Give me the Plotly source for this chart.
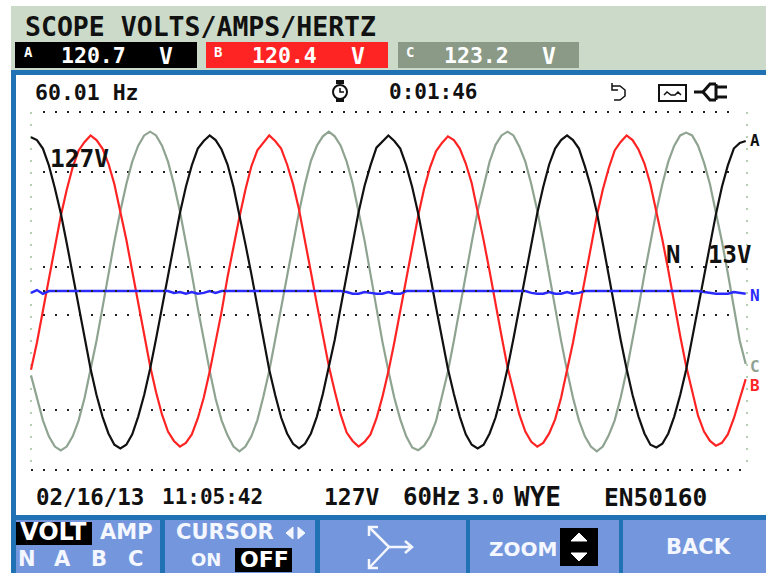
import plotly.graph_objects as go

W, H = 766, 573

# ---- data: volts, one sample per ~0.556 ms ----
BLACK_A = [164,161,152,134,110,83,51,17,-17,-51,-83,-111,-134,-152,-164,-168,-164,-153,-134,-111,-83,-51,-17,17,51,83,111,134,152,160,
           166,161,151,135,111,82,50,18,-16,-50,-84,-111,-135,-152,-163,-168,-163,-152,-134,-110,-82,-52,-17,16,50,84,112,134,153,160,
           166,160,152,134,111,83,52,17,-17,-51,-83,-110,-134,-153,-164,-168,-164,-152,-135,-111,-83,-51,-18,17,51,83,111,135,152,161,
           166,161,152,133,111,84,51,16,-17,-52,-83,-111,-134,-152,-164,-167,-163,-152,-134,-111,-84,-51,-17,18,51,82,111,134,152,158,
           160]
RED_B = [-84,-55,-21,14,48,80,108,132,150,159,166,161,152,136,114,86,55,21,-14,-48,-80,-108,-132,-150,-160,-166,-162,-153,-136,-114,
         -86,-54,-22,15,48,79,108,133,150,158,166,160,152,135,114,87,55,20,-14,-49,-80,-107,-132,-151,-160,-166,-161,-153,-136,-113,
         -86,-55,-21,14,47,80,109,132,149,158,165,161,152,136,115,86,54,21,-15,-48,-81,-108,-132,-150,-161,-166,-162,-152,-137,-114,
         -85,-55,-21,13,48,80,108,131,150,159,166,161,151,136,114,86,55,22,-14,-48,-80,-108,-133,-150,-160,-165,-162,-153,-136,-115,
         -94]
GREY_C = [-90,-114,-138,-155,-166,-170,-166,-155,-138,-114,-85,-53,-18,18,53,85,114,138,155,166,170,166,155,138,114,85,53,18,-18,-53,
          -85,-115,-138,-154,-166,-171,-166,-155,-138,-113,-85,-52,-18,19,53,84,114,139,155,165,170,165,155,138,115,85,54,18,-18,-54,
          -85,-114,-137,-155,-167,-170,-165,-155,-139,-114,-86,-53,-17,18,52,85,113,138,156,166,170,166,154,138,114,86,53,17,-18,-53,
          -85,-114,-138,-155,-166,-171,-166,-154,-138,-114,-85,-53,-18,18,53,85,114,138,155,166,169,166,155,137,114,85,53,19,-18,-53,
          -78]
BLUE_N = [-2,1,-3,0,0,0,0,0,0,0,0,0,0,0,0,0,0,0,0,0,0,0,0,0,-2,-1,-3,-1,-3,-2,0,-2,0,0,0,0,0,0,0,0,0,0,0,0,0,0,0,0,0,0,0,0,0,
          -1,-3,-3,-1,-2,-3,-3,-1,-3,-3,0,0,0,0,0,0,0,0,0,0,0,0,0,0,0,0,0,0,0,0,0,
          -2,-3,-3,-1,-3,-3,-1,-3,-2,0,0,0,0,0,0,0,0,0,0,0,0,0,0,0,0,0,0,0,0,
          -1,-2,-3,-3,-3,-1,-2,-3,-1]
SAMPLE_MS = [i * 16.67 / 30 for i in range(len(BLACK_A))]
INNER_GRID_V = [-127, -25.6, 0, 25.6, 127, 191]
OUTER_GRID_V = [-191]
GRID_T_MS = [0, 66.8]

READINGS = [("A", "120.7"), ("B", "120.4"), ("C", "123.2")]

MONO = "DejaVu Sans Mono"
SANS = "DejaVu Sans"
PANEL = "#ccdbc9"; FRAME = "#2172b5"; BTN = "#7396dc"; GREY = "#8fa391"; RED = "#ff2424"; BLUE = "#2a2aff"; BTXT = "#f4f7ff"


def X(x): return x / W
def Y(y): return 1 - y / H


def rect(x0, y0, x1, y1, color):
    return dict(type="rect", xref="paper", yref="paper", x0=X(x0), x1=X(x1), y0=Y(y1), y1=Y(y0),
                fillcolor=color, line=dict(width=0), layer="below")


def poly(pts, color, width=2, fill=None, close=False):
    d = "M " + " L ".join(f"{X(a):.5f} {Y(b):.5f}" for a, b in pts) + (" Z" if close else "")
    return dict(type="path", xref="paper", yref="paper", path=d, fillcolor=fill or "rgba(0,0,0,0)",
                line=dict(color=color, width=width), layer="above")


def oval(x0, y0, x1, y1, color, width=2):
    return dict(type="circle", xref="paper", yref="paper", x0=X(x0), x1=X(x1), y0=Y(y1), y1=Y(y0),
                line=dict(color=color, width=width), layer="above")


def label(text, x, y, size, color="#111111", anchor="left", family=MONO):
    return dict(text=text, x=X(x), y=Y(y), xref="paper", yref="paper", xanchor=anchor, yanchor="middle",
                showarrow=False, borderpad=0, font=dict(family=family, size=size, color=color, weight=700))


def hdots(v, t0, t1, layer="below"):
    return dict(type="line", xref="x", yref="y", x0=t0, x1=t1, y0=v, y1=v, layer=layer,
                line=dict(color="#222222", width=2, dash="2px,10px"))


fig = go.Figure()
for name, vals, col, lw in [("C", GREY_C, GREY, 2.2), ("B", RED_B, RED, 2.2), ("A", BLACK_A, "#111111", 2.2), ("N", BLUE_N, BLUE, 2.5)]:
    fig.add_trace(go.Scatter(x=SAMPLE_MS, y=vals, mode="lines", name=name, line=dict(color=col, width=lw), showlegend=False))

shapes = [
    rect(11, 6, W, 70, PANEL),
    rect(11, 70, W, H, FRAME),
    rect(16, 75, W, 515, "#ffffff"),
    rect(15, 42, 197, 68, "#000000"),
    rect(206, 42, 388, 68, RED),
    rect(398, 42, 579, 68, "#8a9a86"),
    rect(16, 520, 160, H, BTN),
    rect(165, 520, 315, H, BTN),
    rect(320, 520, 466, H, BTN),
    rect(470, 520, 619, H, BTN),
    rect(623, 520, W, H, BTN),
    rect(16, 522, 92, 545, "#000000"),
    rect(235, 548, 292, 572, "#000000"),
    rect(560, 528, 598, 566, "#000000"),
]
for v in INNER_GRID_V:
    shapes.append(hdots(v, 1.12, 65.6, "above" if v == 0 else "below"))
for v in OUTER_GRID_V:
    shapes.append(hdots(v, 0, 66.8))
for t in GRID_T_MS:
    shapes.append(dict(type="line", xref="x", yref="y", x0=t, x1=t, y0=191, y1=-191, layer="below",
                       line=dict(color="#b5d0b5", width=2, dash="2px,10px")))
shapes += [
    # cursor arrows
    poly([(286, 533), (293, 527), (293, 539)], BTXT, 1, BTXT, True),
    poly([(305, 533), (298, 527), (298, 539)], BTXT, 1, BTXT, True),
    # zoom arrows
    poly([(579, 533), (587, 541), (571, 541)], "#ffffff", 1, "#ffffff", True),
    poly([(579, 561), (587, 553), (571, 553)], "#ffffff", 1, "#ffffff", True),
    # stopwatch
    oval(333, 85, 347, 99, "#111111"),
    poly([(340, 88), (340, 92), (344, 92)], "#111111", 1.5),
    rect(336, 80, 344, 84, "#111111"),
    rect(336, 99, 344, 102, "#111111"),
    # undo icon
    poly([(612, 86), (620, 86), (625, 90), (625, 96), (620, 100), (614, 100)], "#111111", 1.5),
    poly([(612, 83), (612, 90), (618, 90)], "#111111", 1.5),
    # tape icon
    dict(type="rect", xref="paper", yref="paper", x0=X(659), x1=X(686), y0=Y(101), y1=Y(85),
         line=dict(color="#111111", width=2), layer="above"),
    poly([(664, 95), (667, 92), (671, 95), (675, 95), (678, 92), (681, 95)], "#111111", 1.5),
    # plug icon
    poly([(694, 92), (704, 92)], "#111111", 3),
    poly([(716, 84), (710, 84), (703, 92), (710, 100), (716, 100)], "#111111", 3),
    poly([(716, 84), (716, 100)], "#111111", 3),
    poly([(716, 87), (727, 87)], "#111111", 3),
    poly([(716, 97), (727, 97)], "#111111", 3),
    # fork icon in the third button
    poly([(389, 547), (412, 547)], BTXT, 2.5),
    poly([(405, 541), (412, 547), (405, 553)], BTXT, 2.5),
    poly([(389, 547), (369, 527)], BTXT, 2.5),
    poly([(369, 536), (369, 527), (378, 527)], BTXT, 2.5),
    poly([(389, 547), (369, 568)], BTXT, 2.5),
    poly([(369, 559), (369, 568), (378, 568)], BTXT, 2.5),
]

annots = [label("SCOPE VOLTS/AMPS/HERTZ", 24, 26, 26.5)]
for (tag, val), tx, vx, ux in zip(READINGS, (23, 213, 405), (60, 251, 443), (158, 350, 541)):
    annots += [label(tag, tx, 52, 14, "#ffffff"), label(val, vx, 56, 21.5, "#ffffff"), label("V", ux, 56, 23, "#ffffff")]
annots += [
    label("60.01 Hz", 34, 92, 21.5),
    label("0:01:46", 388, 92, 21),
    label("127V", 49, 158, 24.5),
    label("N", 665, 255, 24),
    label("13V", 707, 255, 24),
    label("A", 749, 140, 16),
    label("N", 749, 295, 16, BLUE),
    label("C", 749, 366, 16, GREY),
    label("B", 749, 385, 16, RED),
    label("02/16/13", 35, 497, 22.5),
    label("11:05:42", 161, 497, 21),
    label("127V", 323, 497, 23),
    label("60Hz", 402, 497, 24),
    label("3.0", 466, 497, 20.5),
    label("WYE", 513, 497, 26),
    label("EN50160", 603, 497, 24.5),
    label("VOLT", 19, 532, 24, "#ffffff", family=SANS),
    label("AMP", 99, 532, 21, BTXT, family=SANS),
    label("CURSOR", 175, 532, 21, BTXT, family=SANS),
    label("ON", 190, 559, 18, BTXT, family=SANS),
    label("OFF", 239, 559, 22, "#ffffff", family=SANS),
    label("ZOOM", 488, 549, 20, BTXT, family=SANS),
    label("BACK", 665, 547, 21, BTXT, family=SANS),
]
for ch, cx in zip("NABC", (27, 63, 99, 135)):
    annots.append(label(ch, cx, 559, 21, BTXT, "center", SANS))

PX_PER_MS = 716 / 66.8
PX_PER_V = 1 / 1.067
fig.update_layout(
    width=W, height=H, autosize=False, margin=dict(l=0, r=0, t=0, b=0),
    paper_bgcolor="#ffffff", plot_bgcolor="rgba(0,0,0,0)", showlegend=False,
    shapes=shapes, annotations=annots,
    xaxis=dict(domain=[(31 - PX_PER_MS) / W, (747 + PX_PER_MS) / W], range=[-1, 67.8], showticklabels=False, ticks="",
               showgrid=False, zeroline=False, showline=False),
    yaxis=dict(domain=[1 - (291 + 200 * PX_PER_V) / H, 1 - (291 - 200 * PX_PER_V) / H], range=[-200, 200], showticklabels=False, ticks="",
               showgrid=False, zeroline=False, showline=False),
)
fig.write_html("out.html", config={"displayModeBar": False},
               post_script="document.body.style.margin='0';document.body.style.overflow='hidden';")
